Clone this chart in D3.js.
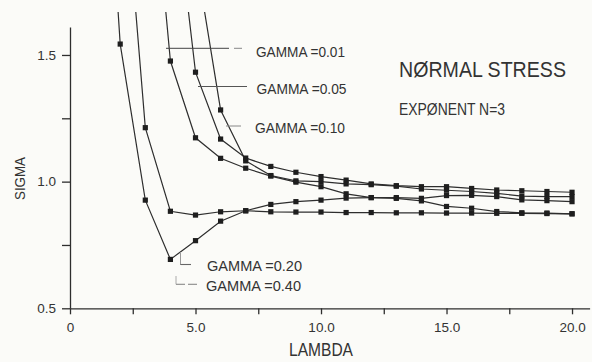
<!DOCTYPE html>
<html><head><meta charset="utf-8">
<script src="https://cdn.jsdelivr.net/npm/d3@7"></script>
<style>
html,body{margin:0;padding:0;background:#fbfbf8;}
svg{display:block;}
text{font-family:"Liberation Sans",Arial,sans-serif;fill:#333;}
</style></head><body>
<svg id="c" width="592" height="362"></svg>
<script>
// ---- data ----
const lambdas = [1,2,3,4,5,6,7,8,9,10,11,12,13,14,15,16,17,18,19,20];
const gammaNames = ["0.01","0.05","0.10","0.20","0.40"];
const sigmaG001 = [null,null,2.54,1.476,1.173,1.092,1.053,1.022,0.998,0.980,0.952,0.937,0.934,0.924,0.902,0.895,0.882,0.877,0.876,0.873];
const sigmaG005 = [null,null,null,2.28,1.432,1.168,1.093,1.060,1.037,1.020,1.006,0.991,0.984,0.980,0.980,0.973,0.967,0.964,0.961,0.958];
const sigmaG010 = [null,null,null,null,1.89,1.283,1.082,1.024,1.003,1.000,0.991,0.988,0.982,0.971,0.966,0.961,0.954,0.943,0.941,0.941];
const sigmaG020 = [null,2.42,1.213,0.883,0.868,0.881,0.885,0.881,0.880,0.880,0.878,0.878,0.877,0.877,0.876,0.876,0.875,0.875,0.874,0.873];
const sigmaG040 = [3.07,1.543,0.927,0.693,0.767,0.844,0.885,0.910,0.921,0.927,0.935,0.937,0.937,0.934,0.945,0.946,0.941,0.928,0.925,0.921];
const xTickValues = [0,2.5,5,7.5,10,12.5,15,17.5,20];
const xTickLabels = ["0","","5.0","","10.0","","15.0","","20.0"];
const yTickValues = [0.5,0.75,1.0,1.25,1.5];
const yTickLabels = ["0.5","","1.0","","1.5"];

const series = [sigmaG001,sigmaG005,sigmaG010,sigmaG020,sigmaG040];

// ---- chart ----
const svg = d3.select("#c");
const x = d3.scaleLinear().domain([0,20.7]).range([70,589.6]);
const y = d3.scaleLinear().domain([0.5,1.61]).range([308.3,27.1]);
const ink = "#2e2e2e";

svg.append("defs").append("clipPath").attr("id","clip")
  .append("rect").attr("x",x(0)).attr("y",12).attr("width",592-x(0)).attr("height",y(0.5)-12+3);

// axes
const gx = svg.append("g").attr("transform",`translate(0,${y(0.5)})`)
  .call(d3.axisBottom(x).tickValues(xTickValues).tickSize(6).tickSizeOuter(0).tickPadding(8)
    .tickFormat((d,i)=>xTickLabels[i]));
const gy = svg.append("g").attr("transform",`translate(${x(0)},0)`)
  .call(d3.axisLeft(y).tickValues(yTickValues).tickSize(8).tickSizeOuter(0).tickPadding(6)
    .tickFormat((d,i)=>yTickLabels[i]));
[gx,gy].forEach(g=>{
  g.selectAll("path,line").attr("stroke",ink).attr("stroke-width",1.3);
  g.selectAll("text").attr("fill","#333").style("font-family","'Liberation Sans',Arial,sans-serif").style("font-size","13.5px");
});

// lines
const plot = svg.append("g").attr("clip-path","url(#clip)");
const line = d3.line().defined(d=>d[1]!=null).x(d=>x(d[0])).y(d=>y(d[1]));
series.forEach(s=>{
  const pts = lambdas.map((l,i)=>[l,s[i]]);
  plot.append("path").attr("d",line(pts)).attr("fill","none").attr("stroke",ink).attr("stroke-width",1.2);
});
series.forEach(s=>{
  const pts = lambdas.map((l,i)=>[l,s[i]]).filter(d=>d[1]!=null && d[1]<=1.61);
  plot.selectAll(null).data(pts).enter().append("rect")
    .attr("x",d=>x(d[0])-2.6).attr("y",d=>y(d[1])-2.6).attr("width",5.2).attr("height",5.2)
    .attr("fill","#1e1e1e");
});

// leader lines
const lead = svg.append("g").attr("fill","none");
function seg(x1,y1,x2,y2,col,w,dash){
  lead.append("line").attr("x1",x1).attr("y1",y1).attr("x2",x2).attr("y2",y2)
    .attr("stroke",col).attr("stroke-width",w||1).attr("stroke-dasharray",dash||null);
}
seg(166,48.3,229,48.3,"#444",1);
seg(234,48.3,242,48.3,"#888",1);
seg(198,86.5,247,86.5,"#555",1);
seg(226,126,241,126,"#888",1);
seg(180.5,252,180.5,265,"#999",1);
seg(180.5,264.5,191,264.5,"#666",1.1);
seg(176,276,176,284.3,"#aaa",1);
seg(176,284.3,185,284.3,"#888",1.1);
seg(188,284.3,197,284.3,"#888",1.1);

// texts
function txt(s,xx,yy,size,len,extra){
  const t = svg.append("text").attr("x",xx).attr("y",yy).style("font-size",size+"px").text(s);
  if(len) t.attr("textLength",len).attr("lengthAdjust","spacingAndGlyphs");
  return t;
}
const gLabelPos = [[256,57,89],[256.5,94,90],[255,133,90],[207,271,95],[206,291,95]];
gammaNames.forEach((g,i)=>{
  const p = gLabelPos[i];
  txt("GAMMA =" + g, p[0], p[1], 14.5, p[2]).attr("fill","#3a3a3a");
});
txt("NØRMAL STRESS",399,77,22,167);
txt("EXPØNENT N=3",399,115,16.5,106);
txt("LAMBDA",289,356,19,64);
svg.append("text").attr("transform","translate(25,200) rotate(-90)")
  .style("font-size","14px").attr("textLength",43).attr("lengthAdjust","spacingAndGlyphs").text("SIGMA");
</script>
</body></html>
